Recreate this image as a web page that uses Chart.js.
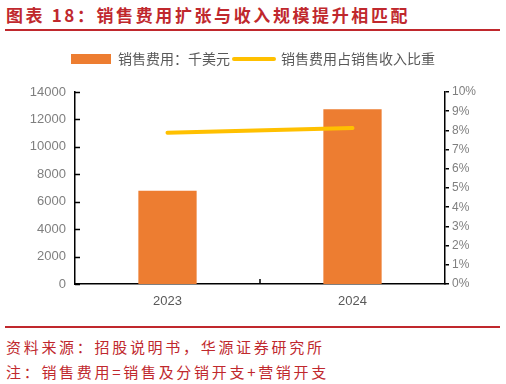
<!DOCTYPE html>
<html>
<head>
<meta charset="utf-8">
<script src="https://cdn.jsdelivr.net/npm/chart.js@4/dist/chart.umd.min.js"></script>
<style>
  html, body { margin: 0; padding: 0; background: #fff; }
  body { width: 506px; height: 384px; position: relative; overflow: hidden; font-family: "Noto Sans CJK SC", sans-serif; }
  #title { position: absolute; left: 6px; top: 4px; font-size: 17px; font-weight: bold; color: #C0282D; letter-spacing: 2.6px; white-space: nowrap; line-height: 22px; }
  #rule1 { position: absolute; left: 5px; top: 29px; width: 495px; height: 2px; background: #C0282D; }
  #rule2 { position: absolute; left: 5px; top: 326px; width: 495px; height: 2px; background: #C0282D; }
  .note { position: absolute; left: 6px; font-size: 15px; color: #C0282D; letter-spacing: 2.7px; white-space: nowrap; line-height: 20px; }
  #n1 { top: 337px; }
  #n2 { top: 362px; }
  #wrap { position: absolute; left: 0; top: 40px; width: 506px; height: 275px; }
</style>
</head>
<body>
<div id="title">图表 18：销售费用扩张与收入规模提升相匹配</div>
<div id="rule1"></div>
<div id="wrap"><canvas id="c" width="506" height="275"></canvas></div>
<div id="rule2"></div>
<div class="note" id="n1">资料来源：招股说明书，华源证券研究所</div>
<div class="note" id="n2">注：销售费用=销售及分销开支+营销开支</div>
<script>
const categories = ["2023", "2024"];
const salesExpense = [6800, 12750];          // 千美元
const expenseRatio = [0.0788, 0.0812];       // 占销售收入比重
const leftTicks = [0, 2000, 4000, 6000, 8000, 10000, 12000, 14000];
const rightTicks = [0, 0.01, 0.02, 0.03, 0.04, 0.05, 0.06, 0.07, 0.08, 0.09, 0.10];
const seriesNames = ["销售费用：千美元", "销售费用占销售收入比重"];

const ORANGE = "#ED7D31";
const YELLOW = "#FFC000";

const layoutFix = {
  id: 'layoutFix',
  beforeLayout(chart) {
    const lg = chart.legend;
    if (lg && !lg._patched) {
      const orig = lg.fit.bind(lg);
      lg.fit = function() { orig(); this.height = 44; };
      lg._patched = true;
    }
  },
  afterDraw(chart) {
    const ctx = chart.ctx;
    const y = chart.scales.y;
    const x = chart.scales.x;
    ctx.save();
    ctx.strokeStyle = "#000";
    ctx.lineWidth = 1.5;
    ctx.beginPath();
    y.ticks.forEach((t, i) => {
      const py = Math.round(y.getPixelForTick(i)) + 0.5;
      ctx.moveTo(y.right, py);
      ctx.lineTo(y.right + 5, py);
    });
    // x axis inward divider tick between categories
    const mid = (x.getPixelForValue(0) + x.getPixelForValue(1)) / 2;
    ctx.moveTo(mid, x.top);
    ctx.lineTo(mid, x.top - 5);
    ctx.stroke();
    ctx.restore();
  }
};

new Chart(document.getElementById('c'), {
  data: {
    labels: categories,
    datasets: [
      {
        type: 'bar',
        label: seriesNames[0],
        data: salesExpense,
        backgroundColor: ORANGE,
        borderWidth: 0,
        yAxisID: 'y',
        categoryPercentage: 1,
        barPercentage: 0.315,
        order: 1
      },
      {
        type: 'line',
        label: seriesNames[1],
        data: expenseRatio,
        borderColor: YELLOW,
        backgroundColor: YELLOW,
        borderWidth: 4,
        borderCapStyle: 'round',
        pointRadius: 0,
        pointHoverRadius: 0,
        tension: 0,
        yAxisID: 'y1',
        order: 0
      }
    ]
  },
  options: {
    responsive: false,
    animation: false,
    devicePixelRatio: 1,
    layout: { padding: { top: 8, left: 0, right: 0, bottom: 0 } },
    plugins: {
      tooltip: { enabled: false },
      legend: {
        display: true,
        position: 'top',
        labels: {
          usePointStyle: true,
          pointStyleWidth: 40,
          boxHeight: 10,
          padding: 4,
          color: "#595959",
          font: { family: "Noto Sans CJK SC", size: 14 },
          sort: (a, b) => a.datasetIndex - b.datasetIndex,
          generateLabels(chart) {
            const items = Chart.defaults.plugins.legend.labels.generateLabels(chart);
            items.forEach(it => {
              if (it.datasetIndex === 0) {
                it.pointStyle = 'rect';
                it.lineWidth = 0;
                it.fillStyle = ORANGE;
                it.strokeStyle = ORANGE;
              } else {
                it.pointStyle = 'line';
                it.lineWidth = 4;
                it.strokeStyle = YELLOW;
                it.lineCap = 'round';
              }
            });
            return items;
          }
        }
      }
    },
    scales: {
      x: {
        type: 'category',
        offset: true,
        grid: { display: false, drawTicks: false },
        border: { display: true, color: "#000", width: 1.5 },
        ticks: { color: "#595959", font: { family: "Liberation Sans", size: 13 }, padding: 10 },
        afterFit(s) { s.height = 31; }
      },
      y: {
        type: 'linear',
        position: 'left',
        min: 0, max: 14000,
        afterBuildTicks(s) { s.ticks = leftTicks.map(v => ({ value: v })); },
        grid: { display: false, drawTicks: false },
        border: { display: true, color: "#000", width: 1.5 },
        ticks: {
          color: "#7F7F7F", font: { family: "Liberation Sans", size: 13 }, padding: 9,
          callback: v => String(v)
        },
        afterFit(s) { s.width = 75; }
      },
      y1: {
        type: 'linear',
        position: 'right',
        min: 0, max: 0.10,
        afterBuildTicks(s) { s.ticks = rightTicks.map(v => ({ value: v })); },
        grid: { display: true, drawOnChartArea: false, drawTicks: true, tickLength: 4, color: "#000", lineWidth: 1.5 },
        border: { display: true, color: "#000", width: 1.5 },
        ticks: {
          color: "#7F7F7F", font: { family: "Liberation Sans", size: 12 }, padding: 3,
          callback: v => Math.round(v * 100) + "%"
        },
        afterFit(s) { s.width = 61; }
      }
    }
  },
  plugins: [layoutFix]
});
</script>
</body>
</html>
